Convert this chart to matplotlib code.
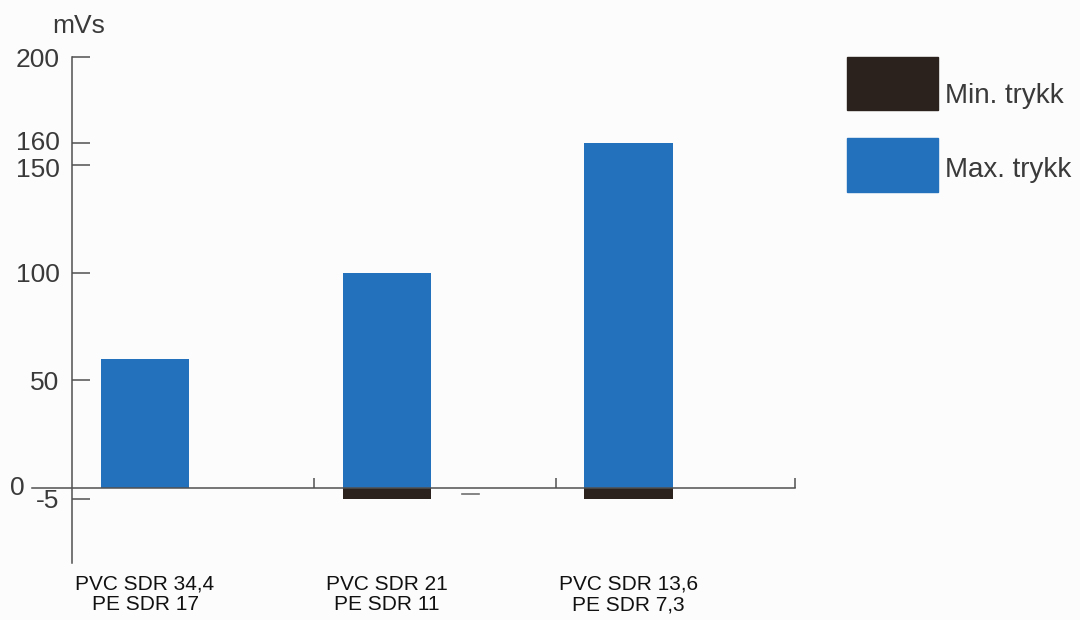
import matplotlib.pyplot as plt
import matplotlib.transforms as mtransforms
from matplotlib.patches import Rectangle

# --- data ---
categories = ["PVC SDR 34,4\nPE SDR 17", "PVC SDR 21\nPE SDR 11", "PVC SDR 13,6\nPE SDR 7,3"]
max_trykk = [60, 100, 160]
min_trykk = [0, -5, -5]
y_ticks = [200, 160, 150, 100, 50, -5]

BLUE = "#2371bd"
BROWN = "#2b211d"
AXIS = "#505050"
TEXT = "#3a3a3a"

plt.rcParams["font.family"] = ["Liberation Sans", "DejaVu Sans"]

fig = plt.figure(figsize=(10.8, 6.2), dpi=100, facecolor="#fcfcfc")
ax = fig.add_axes([0, 0, 1, 1])
ax.set_facecolor("#fcfcfc")

x = list(range(len(categories)))
bar_w = 0.365
ax.bar(x, max_trykk, width=bar_w, color=BLUE, zorder=2)
ax.bar(x, min_trykk, width=bar_w, color=BROWN, zorder=2)

# data limits chosen so the whole figure is the plotting area
ax.set_xlim(-0.6, 3.868)
ax.set_ylim(-61.25, 226.45)

# --- axes ---
for s in ["top", "right"]:
    ax.spines[s].set_visible(False)
ax.spines["left"].set_position(("data", -0.302))
ax.spines["left"].set_bounds(-35, 200)
ax.spines["bottom"].set_position(("data", 0))
ax.spines["bottom"].set_bounds(-0.467, 2.689)
for s in ["left", "bottom"]:
    ax.spines[s].set_color(AXIS)
    ax.spines[s].set_linewidth(1.1)

ax.set_yticks(y_ticks)
ax.set_yticklabels([str(v) for v in y_ticks])
ax.tick_params(axis="y", direction="in", length=13, width=1.1, color=AXIS,
               pad=9, labelsize=19, labelcolor=TEXT)
# 160 and 150 sit close together: push them slightly apart
for lab in ax.get_yticklabels():
    shift = {"160": 2, "150": -2}.get(lab.get_text(), 0)
    if shift:
        lab.set_transform(lab.get_transform() + mtransforms.ScaledTranslation(
            0, shift / 72, fig.dpi_scale_trans))
ax.set_xticks([0.699, 1.70, 2.689])
ax.set_xticklabels([])
ax.tick_params(axis="x", direction="in", length=7, width=1.1, color=AXIS)

# zero label sits left of the baseline
ax.text(-0.50, 0, "0", ha="right", va="center", fontsize=19, color=TEXT)
# small stray dash under the baseline
ax.plot([1.31, 1.38], [-2.6, -2.6], color="#707070", lw=1.2)

# category labels
for xi, lab in zip(x, categories):
    ax.text(xi, -49.5, lab, ha="center", va="center", fontsize=15,
            color="#111111", linespacing=1.1)

fig.text(0.048, 0.958, "mVs", ha="left", va="center", fontsize=19, color=TEXT)

# --- legend ---
fig.patches.append(Rectangle((0.784, 0.8226), 0.0843, 0.0855,
                             transform=fig.transFigure, color=BROWN))
fig.patches.append(Rectangle((0.784, 0.690), 0.0843, 0.0871,
                             transform=fig.transFigure, color=BLUE))
fig.text(0.875, 0.845, "Min. trykk", ha="left", va="center", fontsize=20, color=TEXT)
fig.text(0.875, 0.726, "Max. trykk", ha="left", va="center", fontsize=20, color=TEXT)

fig.savefig("out.png", dpi=100, facecolor=fig.get_facecolor())
